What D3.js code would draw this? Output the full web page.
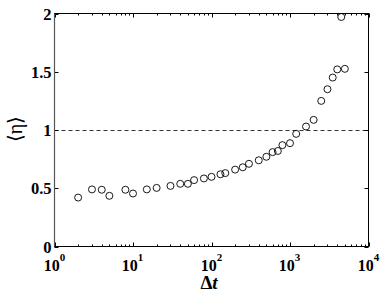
<!DOCTYPE html>
<html>
<head>
<meta charset="utf-8">
<script src="https://cdn.jsdelivr.net/npm/d3@7"></script>
<style>
html,body{margin:0;padding:0;background:#fff;}
svg{display:block;}
text{font-family:"Liberation Serif","Times New Roman",serif;font-weight:bold;fill:#000;}
</style>
</head>
<body>
<svg id="chart" width="382" height="295"></svg>
<script>
const dtValues = [2,3,4,5,8,10,15,20,30,40,50,60,80,100,130,150,200,250,300,400,500,600,700,800,1000,1200,1600,2000,2500,3000,3500,4000,4500,5000];
const etaValues = [0.42,0.49,0.487,0.435,0.487,0.455,0.49,0.503,0.52,0.538,0.538,0.57,0.584,0.598,0.62,0.63,0.66,0.68,0.71,0.74,0.77,0.81,0.82,0.87,0.887,0.967,1.03,1.087,1.25,1.35,1.45,1.52,1.97,1.525];
const xTickExps = [0,1,2,3,4];
const yTicks = [0,0.5,1,1.5,2];
const yTickLabels = ["0","0.5","1","1.5","2"];
const refLine = 1;

const m={left:54.5,right:368.5,top:13.5,bottom:246.5};
const svg=d3.select("#chart");
const x=d3.scaleLog().domain([1,1e4]).range([m.left,m.right]);
const y=d3.scaleLinear().domain([0,2]).range([m.bottom,m.top]);

const minor=[];
for(let e=0;e<4;e++){for(let k=2;k<=9;k++)minor.push(k*Math.pow(10,e));}
const g=svg.append("g");
minor.forEach(v=>{
  const px=Math.round(x(v))+0.5;
  g.append("line").attr("x1",px).attr("x2",px).attr("y1",m.bottom).attr("y2",m.bottom-2).attr("stroke","#000");
  g.append("line").attr("x1",px).attr("x2",px).attr("y1",m.top).attr("y2",m.top+2).attr("stroke","#000");
});
xTickExps.forEach(e=>{
  const px=Math.round(x(Math.pow(10,e)))+0.5;
  g.append("line").attr("x1",px).attr("x2",px).attr("y1",m.bottom).attr("y2",m.bottom-4).attr("stroke","#000");
  g.append("line").attr("x1",px).attr("x2",px).attr("y1",m.top).attr("y2",m.top+4).attr("stroke","#000");
  const t=svg.append("text").attr("x",px-1).attr("y",271).attr("text-anchor","middle").attr("font-size",16);
  t.append("tspan").text("10");
  t.append("tspan").attr("dy",-10).attr("font-size",11).text(e);
});
yTicks.forEach((v,i)=>{
  const py=Math.round(y(v))+0.5;
  g.append("line").attr("x1",m.left).attr("x2",m.left+4).attr("y1",py).attr("y2",py).attr("stroke","#000");
  g.append("line").attr("x1",m.right).attr("x2",m.right-4).attr("y1",py).attr("y2",py).attr("stroke","#000");
  svg.append("text").attr("x",m.left-3).attr("y",py+5).attr("text-anchor","end").attr("font-size",16.5).text(yTickLabels[i]);
});

svg.append("line").attr("x1",m.left).attr("x2",m.right).attr("y1",Math.round(y(refLine))+0.5).attr("y2",Math.round(y(refLine))+0.5)
  .attr("stroke","#000").attr("stroke-width",0.8).attr("stroke-dasharray","4,3");

svg.append("rect").attr("x",m.left).attr("y",m.top).attr("width",m.right-m.left).attr("height",m.bottom-m.top)
  .attr("fill","none").attr("stroke","#000").attr("stroke-width",1);
svg.append("line").attr("x1",m.left).attr("x2",m.left).attr("y1",m.top).attr("y2",m.bottom).attr("stroke","#555").attr("stroke-width",1.2);

svg.selectAll("circle.pt").data(dtValues.map((d,i)=>[d,etaValues[i]])).enter().append("circle")
  .attr("class","pt").attr("cx",d=>x(d[0])).attr("cy",d=>y(d[1])).attr("r",3.5)
  .attr("fill","none").attr("stroke","#000").attr("stroke-width",0.9);

const xl=svg.append("text").attr("x",209).attr("y",289).attr("text-anchor","middle").attr("font-size",19);
xl.append("tspan").text("Δ");
xl.append("tspan").attr("font-style","italic").text("t");
const yl=svg.append("text").attr("transform","translate(22,"+(y(1)-1)+") rotate(-90)").attr("text-anchor","middle").attr("font-size",20);
yl.append("tspan").attr("font-weight","normal").text("⟨");
yl.append("tspan").attr("font-weight","normal").text("η");
yl.append("tspan").attr("font-weight","normal").text("⟩");
</script>
</body>
</html>
